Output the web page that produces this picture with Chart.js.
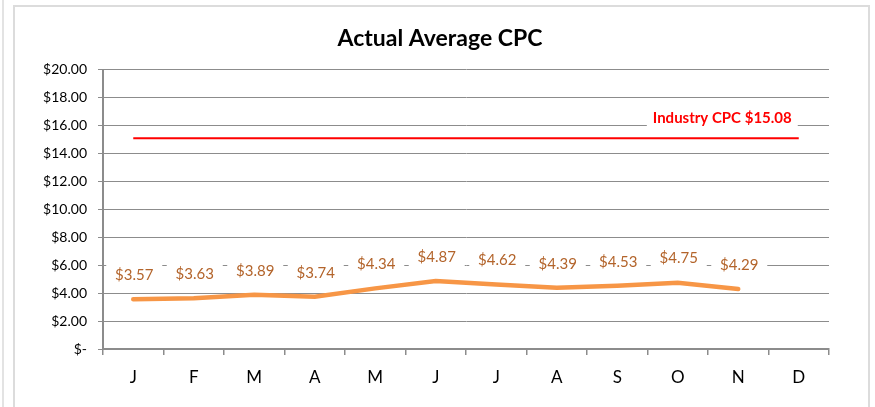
<!DOCTYPE html>
<html>
<head>
<meta charset="utf-8">
<script src="https://cdn.jsdelivr.net/npm/chart.js@4.4.1/dist/chart.umd.min.js"></script>
<style>
    html, body { margin: 0; padding: 0; background: #fff; overflow: hidden; }
    #wrap { position: relative; width: 875px; height: 407px; }
    .edge { position: absolute; left: 2px; top: 0; width: 2px; height: 407px; background: #e3e3e3; }
    .frame { position: absolute; left: 13px; top: 5px; width: 853px; height: 420px; border: 2px solid #dcdcdc; border-bottom: none; }
    canvas { position: absolute; left: 0; top: 0; }
</style>
</head>
<body>
<div id="wrap">
    <div class="edge"></div>
    <div class="frame"></div>
    <canvas id="cpcChart" width="875" height="407"></canvas>
</div>
<script>
// ─── Data ───
const months = ['J', 'F', 'M', 'A', 'M', 'J', 'J', 'A', 'S', 'O', 'N', 'D'];
const actualCpc = [3.57, 3.63, 3.89, 3.74, 4.34, 4.87, 4.62, 4.39, 4.53, 4.75, 4.29, null];
const industryCpc = [15.08, 15.08, 15.08, 15.08, 15.08, 15.08, 15.08, 15.08, 15.08, 15.08, 15.08, 15.08];
const industryLabel = 'Industry CPC $15.08';

const FONT = 'Lato, "Open Sans", sans-serif';
const GRID = '#8c8c8c';

// ─── Labels with white boxes (like Excel data labels) ───
const boxLabels = {
    id: 'boxLabels',
    afterDatasetsDraw(chart) {
        const ctx = chart.ctx;
        ctx.save();
        ctx.textBaseline = 'middle';

        // actual CPC labels, above each point
        const meta = chart.getDatasetMeta(0);
        ctx.font = '15px ' + FONT;
        meta.data.forEach((pt, i) => {
            const v = actualCpc[i];
            if (v == null) return;
            const x = pt.x + 1, y = pt.y - 24;
            ctx.fillStyle = '#fff';
            ctx.fillRect(x - 28, y - 11, 56, 22);
            ctx.fillStyle = '#b3642b';
            ctx.textAlign = 'center';
            ctx.fillText('$' + v.toFixed(2), x, y);
        });

        // industry label, left of last point
        const redMeta = chart.getDatasetMeta(1);
        const last = redMeta.data[redMeta.data.length - 1];
        ctx.font = 'bold 15px ' + FONT;
        const w = ctx.measureText(industryLabel).width;
        const rx = last.x - 7, ry = last.y - 20;
        ctx.fillStyle = '#fff';
        ctx.fillRect(rx - w - 6, ry - 10, w + 12, 20);
        ctx.fillStyle = '#ff0000';
        ctx.textAlign = 'right';
        ctx.fillText(industryLabel, rx, ry);
        ctx.restore();
    }
};

new Chart(document.getElementById('cpcChart'), {
    type: 'line',
    data: {
        labels: months,
        datasets: [
            {
                label: 'Actual CPC',
                data: actualCpc,
                borderColor: '#f79646',
                borderWidth: 4.5,
                pointRadius: 0,
                tension: 0,
                borderCapStyle: 'round'
            },
            {
                label: 'Industry CPC',
                data: industryCpc,
                borderColor: '#ff0000',
                borderWidth: 2,
                pointRadius: 0,
                tension: 0
            }
        ]
    },
    options: {
        responsive: false,
        animation: false,
        layout: { padding: { left: 5, right: 0, top: 0, bottom: 0 } },
        plugins: {
            legend: { display: false },
            tooltip: { enabled: false },
            title: {
                display: true,
                text: 'Actual Average CPC',
                color: '#000',
                font: { family: FONT, size: 23, weight: 'bold', lineHeight: 1.2 },
                padding: { top: 25, bottom: 17 }
            }
        },
        scales: {
            x: {
                offset: true,
                grid: { display: true, offset: true, drawOnChartArea: false, drawTicks: true, tickLength: 6, color: GRID, lineWidth: 1.5 },
                border: { display: true, color: GRID, width: 2 },
                ticks: { color: '#000', font: { family: FONT, size: 17 }, padding: 12, maxRotation: 0, autoSkip: false },
                afterFit(scale) { scale.height = 58; }
            },
            y: {
                min: 0,
                max: 20,
                grid: { color: GRID, lineWidth: 1, drawTicks: true, tickLength: 5 },
                border: { display: true, color: GRID, width: 2 },
                ticks: {
                    stepSize: 2,
                    padding: 11,
                    color: '#000',
                    font: { family: FONT, size: 14 },
                    callback: v => v === 0 ? '$-' : '$' + v.toFixed(2)
                },
                afterFit(scale) { scale.width = 98; }
            },
            // empty right-hand spacer so the plot ends where the original does
            spacer: {
                position: 'right',
                display: true,
                grid: { display: false, drawTicks: false },
                border: { display: false },
                ticks: { display: false },
                afterFit(scale) { scale.width = 46; }
            }
        }
    },
    plugins: [boxLabels]
});
</script>
</body>
</html>
